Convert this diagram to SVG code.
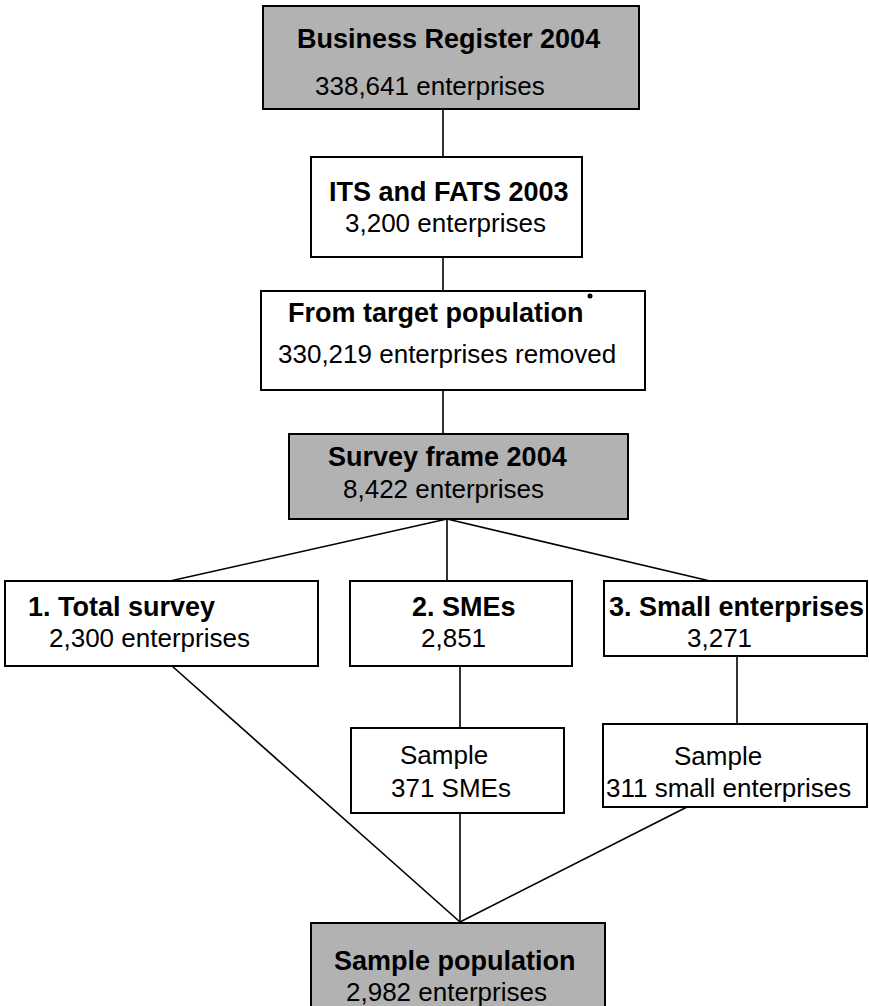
<svg xmlns="http://www.w3.org/2000/svg" width="869" height="1006" viewBox="0 0 869 1006">
<style>
.box{fill:#ffffff;stroke:#000;stroke-width:2}
.gray{fill:#b2b2b2;stroke:#000;stroke-width:2}
.b{font-family:"Liberation Sans",Arial,sans-serif;font-weight:bold;font-size:27px;fill:#000}
.r{font-family:"Liberation Sans",Arial,sans-serif;font-size:26px;fill:#000}
.conn line{stroke:#000;stroke-width:1.6}
</style>
<rect width="869" height="1006" fill="#fff"/>
<g class="conn">
<line x1="443" y1="109" x2="443" y2="157"/>
<line x1="443" y1="257" x2="443" y2="291"/>
<line x1="443" y1="390" x2="443" y2="434"/>
<line x1="447" y1="519" x2="170" y2="581"/>
<line x1="447" y1="519" x2="447" y2="581"/>
<line x1="447" y1="519" x2="710" y2="581"/>
<line x1="172" y1="666" x2="460" y2="922"/>
<line x1="460" y1="666" x2="460" y2="728"/>
<line x1="460" y1="813" x2="460" y2="922"/>
<line x1="737" y1="656" x2="737" y2="724"/>
<line x1="687" y1="807" x2="460" y2="922"/>
</g>
<g id="business-register">
<rect class="gray" x="263" y="6" width="376" height="103"/>
<text class="b" x="297" y="48">Business Register 2004</text>
<text class="r" x="315" y="95">338,641 enterprises</text>
</g>
<g id="its-fats">
<rect class="box" x="311" y="157" width="271" height="100"/>
<text class="b" x="329" y="201">ITS and FATS 2003</text>
<text class="r" x="345" y="232">3,200 enterprises</text>
</g>
<g id="target-population">
<rect class="box" x="261" y="291" width="384" height="99"/>
<text class="b" x="288" y="322">From target population</text>
<circle cx="590" cy="296" r="2.5" fill="#000"/>
<text class="r" x="278" y="363">330,219 enterprises removed</text>
</g>
<g id="survey-frame">
<rect class="gray" x="289" y="434" width="339" height="85"/>
<text class="b" x="328" y="466">Survey frame 2004</text>
<text class="r" x="343" y="498">8,422 enterprises</text>
</g>
<g id="total-survey">
<rect class="box" x="5" y="581" width="313" height="85"/>
<text class="b" x="28" y="616">1. Total survey</text>
<text class="r" x="49" y="647">2,300 enterprises</text>
</g>
<g id="smes">
<rect class="box" x="350" y="581" width="222" height="85"/>
<text class="b" x="412" y="616">2. SMEs</text>
<text class="r" x="421" y="647">2,851</text>
</g>
<g id="small-enterprises">
<rect class="box" x="604" y="581" width="263" height="75"/>
<text class="b" x="609" y="616">3. Small enterprises</text>
<text class="r" x="687" y="647">3,271</text>
</g>
<g id="sample-smes">
<rect class="box" x="351" y="728" width="213" height="85"/>
<text class="r" x="400" y="764">Sample</text>
<text class="r" x="391" y="797">371 SMEs</text>
</g>
<g id="sample-small">
<rect class="box" x="603" y="724" width="264" height="83"/>
<text class="r" x="674" y="765">Sample</text>
<text class="r" x="606" y="797">311 small enterprises</text>
</g>
<g id="sample-population">
<rect class="gray" x="311" y="923" width="294" height="90"/>
<text class="b" x="334" y="970">Sample population</text>
<text class="r" x="346" y="1001">2,982 enterprises</text>
</g>
</svg>
